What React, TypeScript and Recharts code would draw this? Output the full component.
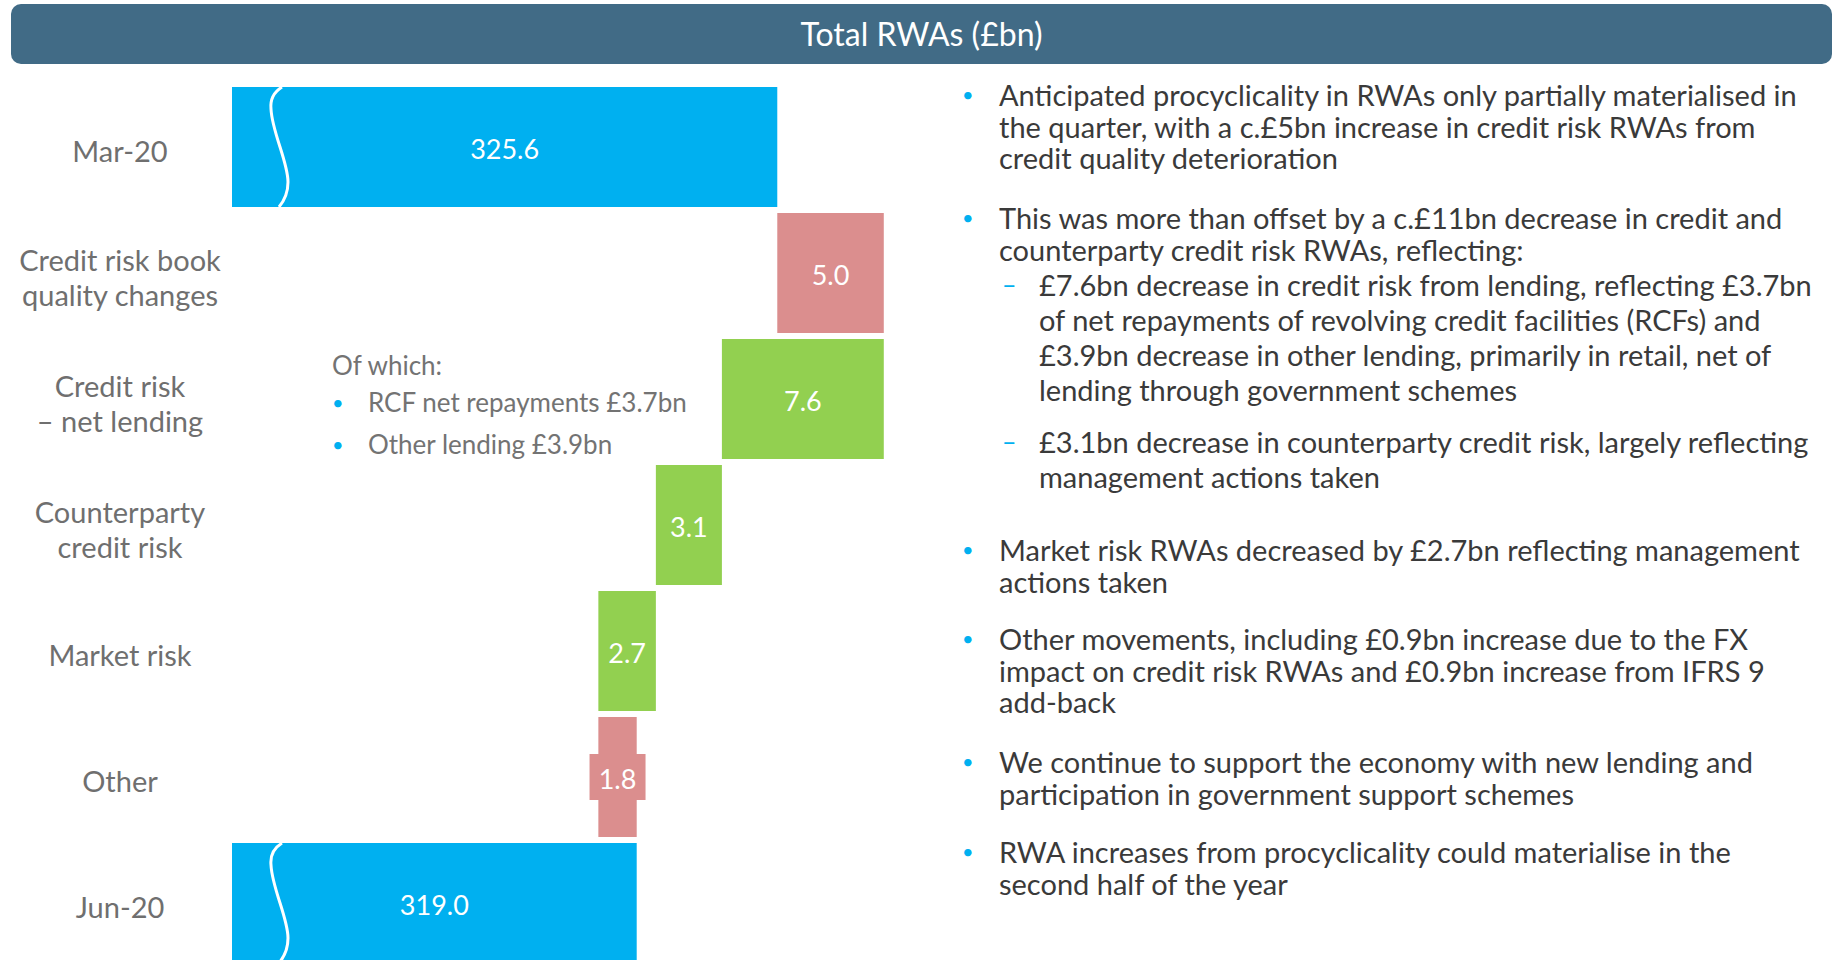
import React from 'react';
import { BarChart, Bar, XAxis, YAxis, Cell, LabelList } from 'recharts';

// waterfall values (£bn)
const categories = [
  'Mar-20',
  'Credit risk book\nquality changes',
  'Credit risk\n– net lending',
  'Counterparty\ncredit risk',
  'Market risk',
  'Other',
  'Jun-20',
];
const opening = 325.6;
const movements = [5.0, -7.6, -3.1, -2.7, 1.8];
const closing = 319.0;
const axisStart = 300; // axis is broken, bars start here

const whichLines = ['RCF net repayments £3.7bn', 'Other lending £3.9bn'];

const notes = [
  { level: 0, lines: ['Anticipated procyclicality in RWAs only partially materialised in', 'the quarter, with a c.£5bn increase in credit risk RWAs from', 'credit quality deterioration'] },
  { level: 0, lines: ['This was more than offset by a c.£11bn decrease in credit and', 'counterparty credit risk RWAs, reflecting:'] },
  { level: 1, lines: ['£7.6bn decrease in credit risk from lending, reflecting £3.7bn', 'of net repayments of revolving credit facilities (RCFs) and', '£3.9bn decrease in other lending, primarily in retail, net of', 'lending through government schemes'] },
  { level: 1, lines: ['£3.1bn decrease in counterparty credit risk, largely reflecting', 'management actions taken'] },
  { level: 0, lines: ['Market risk RWAs decreased by £2.7bn reflecting management', 'actions taken'] },
  { level: 0, lines: ['Other movements, including £0.9bn increase due to the FX', 'impact on credit risk RWAs and £0.9bn increase from IFRS 9', 'add-back'] },
  { level: 0, lines: ['We continue to support the economy with new lending and', 'participation in government support schemes'] },
  { level: 0, lines: ['RWA increases from procyclicality could materialise in the', 'second half of the year'] },
];
// first-line centre of each note
const noteTops = [95, 218, 284, 441, 550, 639, 762, 852];

const COLORS: Record<string, string> = {
  total: '#00B0F0',
  increase: '#DB8E8E',
  decrease: '#92D050',
};
const FONT = 'Lato, "Open Sans", sans-serif';

type Row = { name: string; range: [number, number]; label: string; kind: string };

const data: Row[] = [];
data.push({ name: categories[0], range: [axisStart, opening], label: opening.toFixed(1), kind: 'total' });
let running = opening;
movements.forEach((m, i) => {
  const next = running + m;
  data.push({
    name: categories[i + 1],
    range: [Math.min(running, next), Math.max(running, next)],
    label: Math.abs(m).toFixed(1),
    kind: m > 0 ? 'increase' : 'decrease',
  });
  running = next;
});
data.push({ name: categories[6], range: [axisStart, closing], label: closing.toFixed(1), kind: 'total' });

const WaterfallBar = (props: any) => {
  const { x, y, width, height, fill, index } = props;
  if (width == null || height == null) return null;
  const row = data[index];
  const k = height / 120;
  const bx = x;
  return (
    <g>
      <rect x={x} y={y} width={width} height={height} fill={fill} />
      {row && row.kind === 'total' && (
        <path
          d={`M ${bx + 50} ${y} C ${bx + 42} ${y + 5 * k} ${bx + 38} ${y + 12 * k} ${bx + 39} ${y + 22 * k}
              C ${bx + 40} ${y + 45 * k} ${bx + 56} ${y + 75 * k} ${bx + 56} ${y + 95 * k}
              C ${bx + 56} ${y + 106 * k} ${bx + 52} ${y + 114 * k} ${bx + 47} ${y + 120 * k}`}
          stroke="#fff"
          strokeWidth={3}
          fill="none"
        />
      )}
    </g>
  );
};

const ValueLabel = (props: any) => {
  const { x, y, width, height, value, index } = props;
  const cx = x + width / 2;
  const cy = y + height / 2;
  const row = data[index];
  const boxed = width < 50;
  return (
    <g>
      {boxed && <rect x={cx - 28} y={cy - 23} width={56} height={46} fill={COLORS[row.kind]} />}
      <text x={cx} y={cy + 2.5} dy="0.35em" textAnchor="middle" fill="#fff" fontSize={27} fontFamily={FONT}>
        {value}
      </text>
    </g>
  );
};

const CategoryTick = (props: any) => {
  const { y, payload } = props;
  const lines = String(payload.value).split('\n');
  const lh = 35;
  const start = y + 5 - ((lines.length - 1) * lh) / 2;
  return (
    <text textAnchor="middle" fill="#6f6f6f" fontSize={29} fontFamily={FONT}>
      {lines.map((l, i) => (
        <tspan key={i} x={120} y={start + i * lh} dy="0.35em">
          {l}
        </tspan>
      ))}
    </text>
  );
};

export default function App() {
  return (
    <div style={{ position: 'fixed', left: 0, top: 0, width: 1835, height: 960, overflow: 'hidden', background: '#fff', fontFamily: FONT }}>
      <div
        style={{
          position: 'absolute',
          left: 11,
          top: 4,
          width: 1821,
          height: 60,
          borderRadius: 10,
          background: '#416B86',
          color: '#fff',
          fontSize: 32,
          lineHeight: '60px',
          textAlign: 'center',
        }}
      >
        Total RWAs (£bn)
      </div>

      <div style={{ position: 'absolute', left: 0, top: 0 }}>
        <BarChart
          width={1835}
          height={970}
          layout="vertical"
          data={data}
          margin={{ top: 84, right: 751, bottom: 4, left: 0 }}
        >
          <XAxis type="number" domain={[300, 340]} allowDataOverflow hide />
          <YAxis
            type="category"
            dataKey="name"
            width={232}
            axisLine={false}
            tickLine={false}
            interval={0}
            tick={(p: any) => <CategoryTick {...p} />}
          />
          <Bar dataKey="range" barSize={120} isAnimationActive={false} shape={(p: any) => <WaterfallBar {...p} />}>
            {data.map((d, i) => (
              <Cell key={i} fill={COLORS[d.kind]} />
            ))}
            <LabelList dataKey="label" content={(p: any) => <ValueLabel {...p} />} />
          </Bar>
        </BarChart>
      </div>

      {/* breakdown of net lending */}
      <div style={{ position: 'absolute', left: 332, top: 365 - 16, lineHeight: '32px', fontSize: 26, color: '#737373', whiteSpace: 'nowrap' }}>
        Of which:
      </div>
      {whichLines.map((t, i) => (
        <div key={i} style={{ position: 'absolute', left: 332, top: 402 + i * 42 - 16, lineHeight: '32px', fontSize: 26, color: '#737373', whiteSpace: 'nowrap' }}>
          <span style={{ color: '#00B0F0', fontSize: 20, position: 'absolute', left: 0 }}>•</span>
          <span style={{ position: 'absolute', left: 36 }}>{t}</span>
        </div>
      ))}

      {/* commentary */}
      {notes.map((n, ni) => {
        const lh = n.level === 0 ? 31.6 : 35;
        const textLeft = n.level === 0 ? 999 : 1039;
        return (
          <div key={ni}>
            <span
              style={{
                position: 'absolute',
                left: n.level === 0 ? 962 : 1002,
                top: noteTops[ni] - lh / 2,
                lineHeight: `${lh}px`,
                fontSize: n.level === 0 ? 20 : 25,
                color: '#00B0F0',
              }}
            >
              {n.level === 0 ? '•' : '–'}
            </span>
            {n.lines.map((l, li) => (
              <div
                key={li}
                style={{
                  position: 'absolute',
                  left: textLeft,
                  top: noteTops[ni] - lh / 2 + li * lh,
                  lineHeight: `${lh}px`,
                  fontSize: 29,
                  color: '#3a3a3a',
                  whiteSpace: 'nowrap',
                }}
              >
                {l}
              </div>
            ))}
          </div>
        );
      })}
    </div>
  );
}
